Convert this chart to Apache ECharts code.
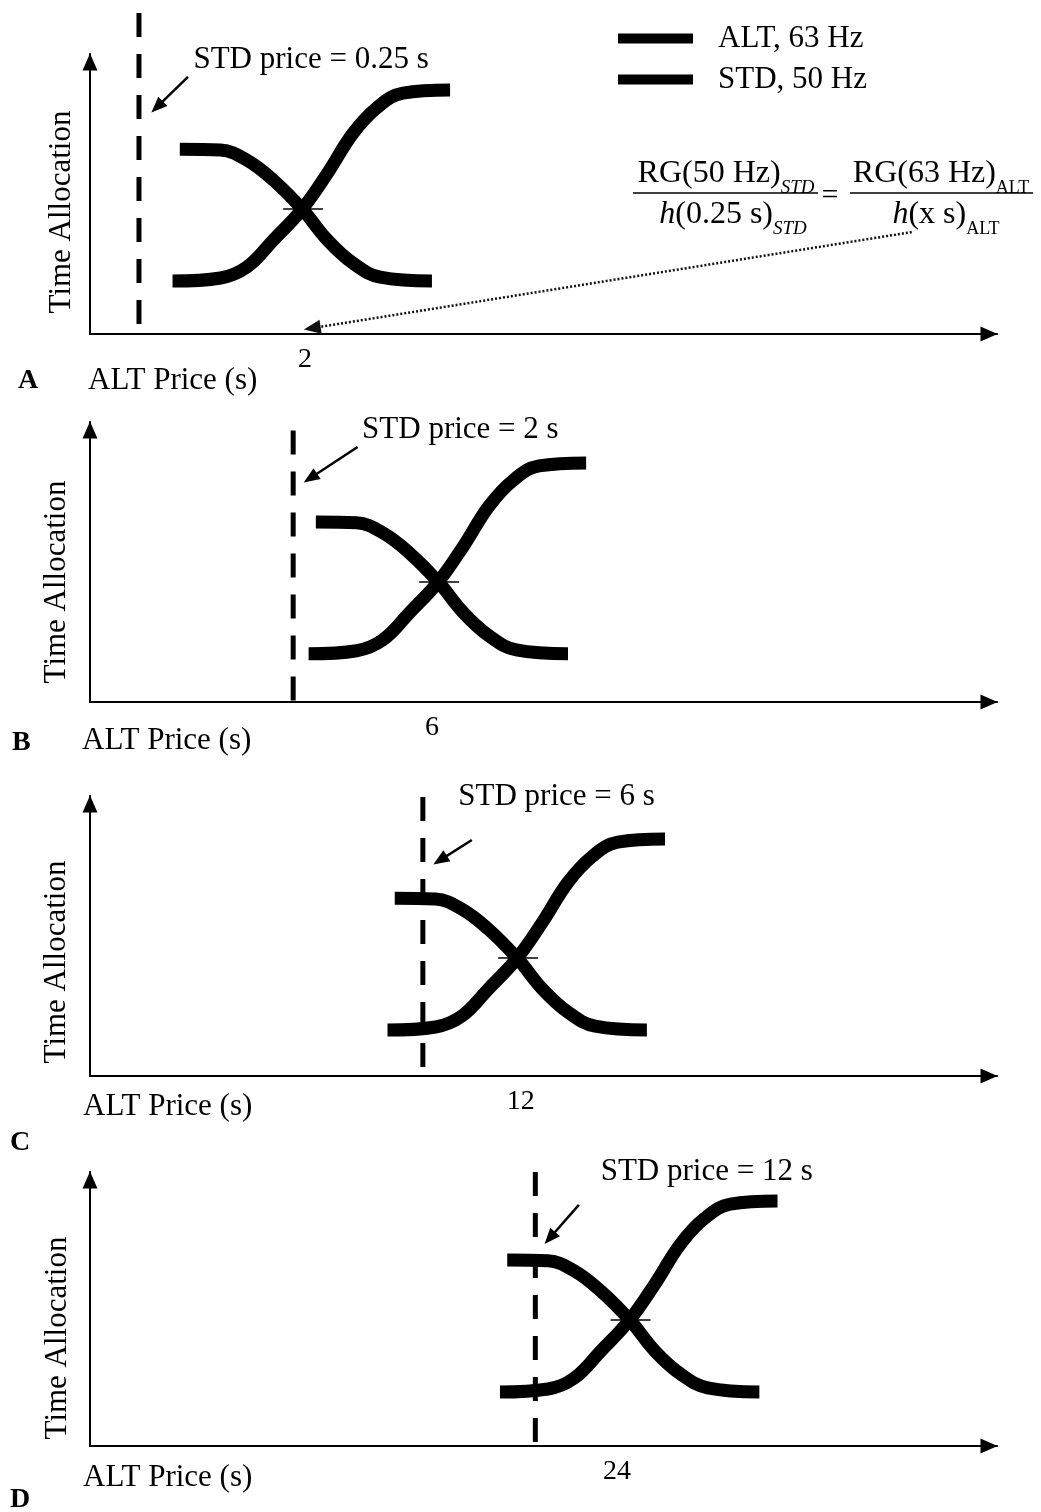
<!DOCTYPE html>
<html>
<head>
<meta charset="utf-8">
<script src="https://cdn.jsdelivr.net/npm/echarts@6/dist/echarts.min.js"></script>
<style>
html, body { margin: 0; padding: 0; background: #fff; }
#chart { width: 1041px; height: 1512px; }
</style>
</head>
<body>
<div id="chart"></div>
<script>
// axes are schematic: x and y both run 0..100 in each panel
var panelNames = ['A', 'B', 'C', 'D'];
var stdPriceText = ['STD price = 0.25 s', 'STD price = 2 s', 'STD price = 6 s', 'STD price = 12 s'];
var crossTickLabels = ['2', '6', '12', '24'];
var crossTickAt = [23.7, 37.7, 47.5, 58.1];
var stdLineX = [5.4, 22.4, 36.7, 49.1];
var stdLineTop = [114.6, 97, 99.6, 100];
var crossPoint = [[23.4, 44.6], [38.4, 42.9], [47.1, 42.1], [59.5, 46.0]];
var pointerFrom = [[10.8, 91.8], [29.5, 91.1], [42.1, 84.3], [53.9, 88.0]];
var pointerTo = [[7.4, 81.1], [24.3, 80.0], [38.6, 77.1], [50.7, 75.9]];
var stdTextAt = [[11.4, 97.9], [30.0, 97.1], [40.6, 99.6], [56.3, 100]];
var dottedFrom = [90.6, 36.4];
var dottedTo = [24.5, 2.1];

// ALT, 63 Hz (falling curves)
var altA = [[9.9, 66.0], [14.4, 65.7], [17.3, 62.1], [20.2, 55.0], [23.4, 44.6], [26.2, 33.5], [29.0, 25.3], [32.0, 20.3], [37.7, 18.9]];
var altB = [[24.9, 64.3], [29.4, 64.0], [32.3, 60.4], [35.2, 53.3], [38.4, 42.9], [41.2, 31.8], [44.0, 23.6], [47.0, 18.6], [52.7, 17.2]];
var altC = [[33.6, 63.5], [38.1, 63.2], [41.0, 59.6], [43.9, 52.5], [47.1, 42.1], [49.9, 31.0], [52.7, 22.8], [55.7, 17.8], [61.4, 16.4]];
var altD = [[46.0, 67.9], [50.5, 67.6], [53.4, 63.9], [56.3, 56.6], [59.5, 46.0], [62.3, 34.6], [65.1, 26.3], [68.1, 21.2], [73.8, 19.7]];

// STD, 50 Hz (rising curves)
var stdA = [[9.1, 18.9], [14.4, 20.0], [17.3, 23.9], [20.2, 33.5], [23.4, 44.6], [26.2, 57.5], [29.0, 71.7], [31.7, 81.0], [34.5, 86.0], [39.7, 87.1]];
var stdB = [[24.1, 17.2], [29.4, 18.3], [32.3, 22.2], [35.2, 31.8], [38.4, 42.9], [41.2, 55.8], [44.0, 70.0], [46.7, 79.3], [49.5, 84.3], [54.7, 85.4]];
var stdC = [[32.8, 16.4], [38.1, 17.5], [41.0, 21.4], [43.9, 31.0], [47.1, 42.1], [49.9, 55.0], [52.7, 69.2], [55.4, 78.5], [58.2, 83.5], [63.4, 84.6]];
var stdD = [[45.2, 19.7], [50.5, 20.8], [53.4, 24.8], [56.3, 34.6], [59.5, 46.0], [62.3, 59.2], [65.1, 73.7], [67.8, 83.2], [70.6, 88.3], [75.8, 89.4]];

var altCurves = [altA, altB, altC, altD];
var stdCurves = [stdA, stdB, stdC, stdD];

var FONT = "'Liberation Serif', 'Times New Roman', serif";
var gridTops = [54, 422, 796, 1172];
var gridHeights = [280, 280, 280, 274];

var myChart = echarts.init(document.getElementById('chart'));

var grids = [], xAxes = [], yAxes = [], series = [];

for (var i = 0; i < 4; i++) {
    grids.push({ left: 90, top: gridTops[i], width: 907, height: gridHeights[i] });

    xAxes.push({
        type: 'value', gridIndex: i, min: 0, max: 100,
        axisLine: { show: true, symbol: ['none', 'triangle'], symbolSize: [15, 17], symbolOffset: [0, -8], lineStyle: { color: '#000', width: 2 } },
        axisTick: { show: false },
        splitLine: { show: false },
        axisLabel: {
            show: true,
            customValues: [crossTickAt[i]],
            formatter: (function (lab) { return function () { return lab; }; })(crossTickLabels[i]),
            fontSize: 28, fontFamily: FONT, color: '#000', margin: 12
        }
    });

    yAxes.push({
        type: 'value', gridIndex: i, min: 0, max: 100,
        axisLine: { show: true, symbol: ['none', 'triangle'], symbolSize: [15, 17], symbolOffset: [0, -8], lineStyle: { color: '#000', width: 2 } },
        axisTick: { show: false },
        splitLine: { show: false },
        axisLabel: { show: false }
    });

    var cx = crossPoint[i][0], cy = crossPoint[i][1];

    series.push({
        name: 'ALT, 63 Hz', type: 'line', xAxisIndex: i, yAxisIndex: i,
        data: altCurves[i], smooth: 0.4, symbol: 'none',
        lineStyle: { color: '#000', width: 13 }, itemStyle: { color: '#000' },
        z: 3,
        markLine: {
            silent: true, symbol: 'none', label: { show: false },
            lineStyle: { color: '#000', width: 2.5, type: 'solid' },
            data: [
                [{ coord: [cx - 2.1, cy], lineStyle: { width: 1.5 } }, { coord: [cx + 2.3, cy] }],
                [{ coord: pointerFrom[i] }, { coord: pointerTo[i], symbol: 'triangle', symbolSize: [13, 16] }]
            ]
        },
        markPoint: {
            silent: true, symbol: 'circle', symbolSize: 0,
            itemStyle: { color: 'rgba(0,0,0,0)' },
            data: [{
                coord: stdTextAt[i],
                label: {
                    show: true, position: 'right', distance: 0,
                    formatter: stdPriceText[i],
                    fontSize: 31, fontFamily: FONT, color: '#000'
                }
            }]
        }
    });

    var stdSeries = {
        name: 'STD, 50 Hz', type: 'line', xAxisIndex: i, yAxisIndex: i,
        data: stdCurves[i], smooth: 0.4, symbol: 'none',
        lineStyle: { color: '#000', width: 13 }, itemStyle: { color: '#000' },
        z: 3
    };
    if (i === 0) {
        stdSeries.markLine = {
            silent: true, symbol: 'none', label: { show: false },
            lineStyle: { color: '#111', width: 2.5, type: [2, 2] },
            data: [[{ coord: dottedFrom }, { coord: dottedTo, symbol: 'triangle', symbolSize: [14, 17] }]]
        };
    }
    series.push(stdSeries);

    // dashed line at the STD price
    series.push({
        name: 'STD price', type: 'line', xAxisIndex: i, yAxisIndex: i,
        data: [[stdLineX[i], stdLineTop[i]], [stdLineX[i], 0]],
        symbol: 'none', clip: false, silent: true,
        lineStyle: { color: '#000', width: 5, type: [24, 17] },
        z: 2
    });
}

var axisTitlePos = [[88, 381], [82, 741], [83, 1107], [83, 1478]];
var letterPos = [[18, 381], [12, 743], [10, 1143], [10, 1500]];
var yTitlePos = [[62, 212], [57, 582], [57, 962], [58, 1338]];

var graphic = [];
for (var j = 0; j < 4; j++) {
    graphic.push({
        type: 'text', x: axisTitlePos[j][0], y: axisTitlePos[j][1],
        style: { text: 'ALT Price (s)', font: '31px ' + FONT, fill: '#000', textVerticalAlign: 'middle' }
    });
    graphic.push({
        type: 'text', x: letterPos[j][0], y: letterPos[j][1],
        style: { text: panelNames[j], font: 'bold 28px ' + FONT, fill: '#000', textVerticalAlign: 'middle' }
    });
    graphic.push({
        type: 'text', x: yTitlePos[j][0], y: yTitlePos[j][1], rotation: Math.PI / 2,
        style: { text: 'Time Allocation', font: '31px ' + FONT, fill: '#000', textAlign: 'center', textVerticalAlign: 'middle' }
    });
}

// the ratio equation in panel A
var eqRich = {
    m: { fontSize: 32, fontFamily: FONT, color: '#000', lineHeight: 46 },
    i: { fontSize: 32, fontFamily: FONT, fontStyle: 'italic', color: '#000', lineHeight: 46 },
    s: { fontSize: 19, fontFamily: FONT, fontStyle: 'italic', color: '#000', lineHeight: 22, verticalAlign: 'bottom' },
    a: { fontSize: 18, fontFamily: FONT, color: '#000', lineHeight: 22, verticalAlign: 'bottom' }
};
graphic.push(
    { type: 'text', x: 726, y: 174, style: { text: '{m|RG(50 Hz)}{s|STD}', rich: eqRich, textAlign: 'center', textVerticalAlign: 'middle' } },
    { type: 'text', x: 733, y: 215, style: { text: '{i|h}{m|(0.25 s)}{s|STD}', rich: eqRich, textAlign: 'center', textVerticalAlign: 'middle' } },
    { type: 'line', shape: { x1: 633, y1: 193, x2: 818, y2: 193 }, style: { stroke: '#000', lineWidth: 1.5 } },
    { type: 'text', x: 830, y: 196, style: { text: '=', font: '30px ' + FONT, fill: '#000', textAlign: 'center', textVerticalAlign: 'middle' } },
    { type: 'text', x: 941, y: 174, style: { text: '{m|RG(63 Hz)}{a|ALT}', rich: eqRich, textAlign: 'center', textVerticalAlign: 'middle' } },
    { type: 'text', x: 946, y: 215, style: { text: '{i|h}{m|(x s)}{a|ALT}', rich: eqRich, textAlign: 'center', textVerticalAlign: 'middle' } },
    { type: 'line', shape: { x1: 850, y1: 193, x2: 1033, y2: 193 }, style: { stroke: '#000', lineWidth: 1.5 } }
);

var option = {
    backgroundColor: '#fff',
    animation: false,
    legend: {
        data: ['ALT, 63 Hz', 'STD, 50 Hz'],
        orient: 'vertical', left: 613, top: 18,
        icon: 'rect', itemWidth: 75, itemHeight: 10, itemGap: 10,
        selectedMode: false,
        textStyle: { fontSize: 31, fontFamily: FONT, color: '#000', padding: [0, 0, 0, 20] }
    },
    grid: grids,
    xAxis: xAxes,
    yAxis: yAxes,
    series: series,
    graphic: graphic
};

myChart.setOption(option);
</script>
</body>
</html>
